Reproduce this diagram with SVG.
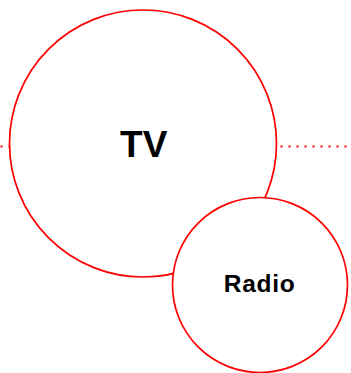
<svg xmlns="http://www.w3.org/2000/svg" width="351" height="373" viewBox="0 0 351 373">
<style>
.c{fill:#fff;stroke:#f00;stroke-width:1.7}
.dot{stroke:#f00;stroke-width:2;stroke-dasharray:2 6;fill:none}
.t{font-family:"Liberation Sans",Arial,sans-serif;font-weight:bold;fill:#000;text-anchor:middle}
</style>
<g id="connectors">
<line class="dot" x1="0" y1="146.5" x2="351" y2="146.5" stroke-dashoffset="-0.5"/>
</g>
<g id="tv">
<circle class="c" cx="143" cy="143.5" r="133.5"/>
<text class="t" x="143.7" y="156.7" font-size="37">TV</text>
</g>
<g id="radio">
<circle class="c" cx="260" cy="285" r="87.5"/>
<text class="t" x="259.2" y="292" font-size="24.5" textLength="71" lengthAdjust="spacing">Radio</text>
</g>
</svg>
